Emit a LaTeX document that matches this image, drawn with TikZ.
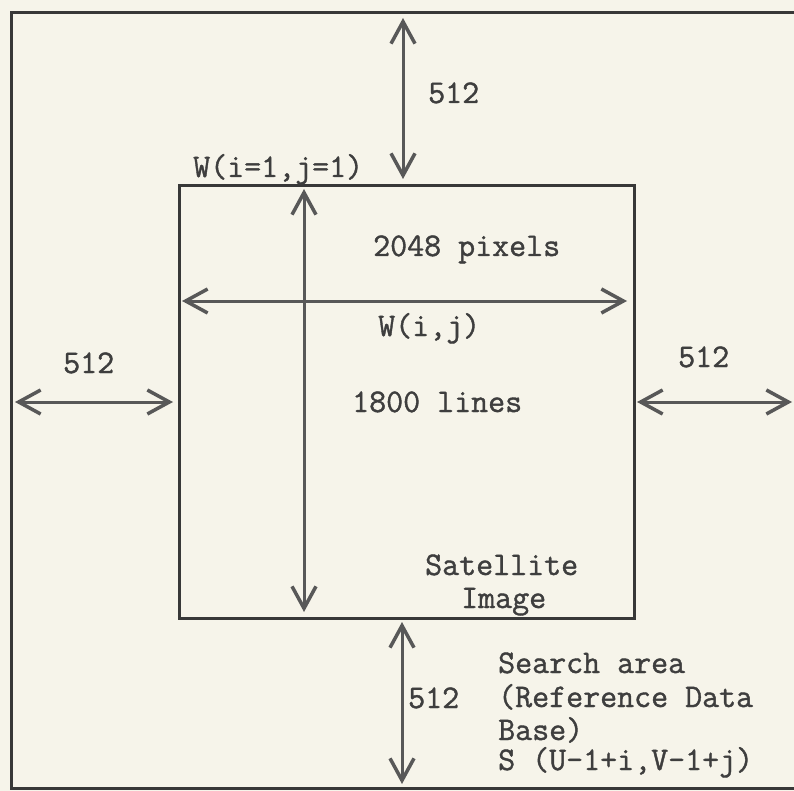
\documentclass[tikz,border=0pt]{standalone}
\usepackage{fontspec}
\newfontfamily\tw{Latin Modern Mono}[FakeBold=1.2]
\usetikzlibrary{arrows.meta}
\definecolor{paper}{HTML}{F6F4EA}
\definecolor{ink}{HTML}{383838}
\definecolor{arrowink}{HTML}{585858}
\definecolor{textink}{HTML}{3E3E3E}
\tikzset{
  boxline/.style={draw=ink, line width=3pt},
  dimarrow/.style={draw=arrowink, line width=3pt,
    {Straight Barb[length=22pt,width=24pt,line width=3.5pt]}-{Straight Barb[length=22pt,width=24pt,line width=3.5pt]}},
  lbl/.style={text=textink, font=\tw\fontsize{33}{33}\selectfont, inner sep=0pt, anchor=base west},
}
\begin{document}
\begin{tikzpicture}[x=1pt,y=-1pt]
\fill[paper] (0,0) rectangle (794,791);
\useasboundingbox (0,0) rectangle (794,791);
% outer search area (right side lies outside the picture)
\coordinate (otl) at (11,13);
\coordinate (otr) at (800,13);
\coordinate (obl) at (11,788);
\coordinate (obr) at (800,788);
\draw[boxline] (otr) -- (otl) -- (obl) -- (obr);
% inner satellite image
\node[boxline, minimum width=455pt, minimum height=433pt, inner sep=0pt, anchor=north west] (img) at (178,184) {};
% dimension arrows
\coordinate (ta1) at (403,18);  \coordinate (ta2) at (403,179);
\coordinate (ba1) at (402,622); \coordinate (ba2) at (402,784);
\coordinate (la1) at (15,402);  \coordinate (la2) at (173,402);
\coordinate (ra1) at (637,402); \coordinate (ra2) at (792,402);
\coordinate (iv1) at (304,189); \coordinate (iv2) at (304,612);
\coordinate (ih1) at (182,301); \coordinate (ih2) at (627,301);
\draw[dimarrow] (ta1) -- (ta2);
\draw[dimarrow] (ba1) -- (ba2);
\draw[dimarrow] (la1) -- (la2);
\draw[dimarrow] (ra1) -- (ra2);
\draw[dimarrow] (iv1) -- (iv2);
\draw[dimarrow] (ih1) -- (ih2);
% labels
\node[lbl] (t512) at (428,103) {512};
\node[lbl] (w11) at (193,177) {W(i=1,j=1)};
\node[lbl] (l512) at (63,373) {512};
\node[lbl] (r512) at (678,367) {512};
\node[lbl] (pix) at (373,256) {2048 pixels};
\node[lbl] (wij) at (378,336) {W(i,j)};
\node[lbl] (lines) at (352,412) {1800 lines};
\node[lbl] (sat) at (425,575) {Satellite};
\node[lbl] (imgl) at (461,608) {Image};
\node[lbl] (b512) at (408,708) {512};
\node[lbl] (s1) at (498,673) {Search area};
\node[lbl] (s2) at (498,707) {(Reference Data};
\node[lbl] (s3) at (498,740) {Base)};
\node[lbl] (s4) at (498,770) {S (U-1+i,V-1+j)};
\end{tikzpicture}
\end{document}
